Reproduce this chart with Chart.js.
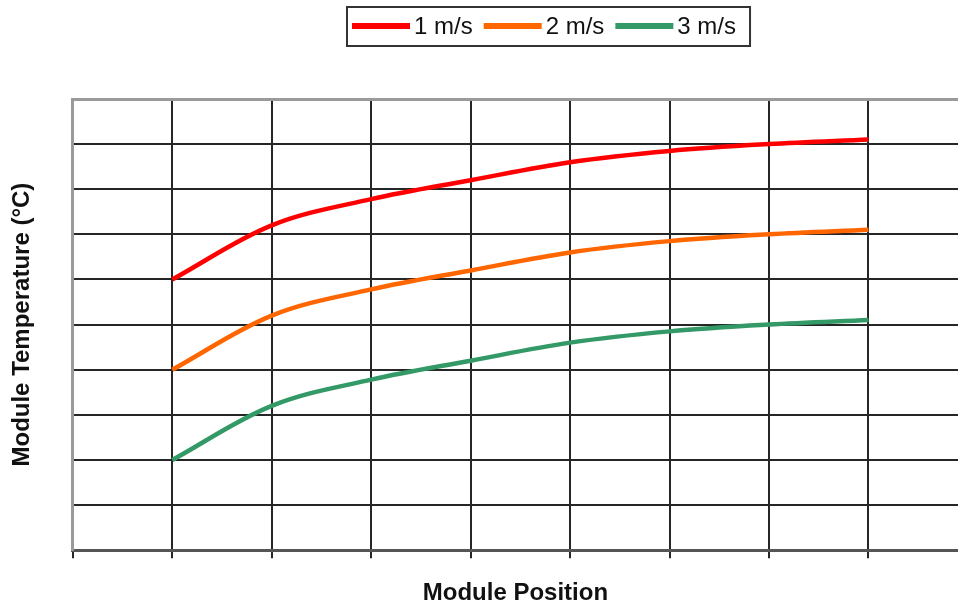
<!DOCTYPE html>
<html>
<head>
<meta charset="utf-8">
<script src="https://cdn.jsdelivr.net/npm/chart.js@4"></script>
<style>
  body { margin: 0; background: #fff; overflow: hidden; }
</style>
</head>
<body>
<canvas id="grafico" width="958" height="606"></canvas>
<script>
// Dados (sem rótulos nos eixos)
const posicoes = [1, 2, 3, 4, 5, 6, 7, 8];
const velocidades = ['1 m/s', '2 m/s', '3 m/s'];
const temp1ms = [6.0, 7.2, 7.78, 8.2, 8.6, 8.85, 9.0, 9.1];
const temp2ms = [4.0, 5.2, 5.78, 6.2, 6.6, 6.85, 7.0, 7.1];
const temp3ms = [2.0, 3.2, 3.78, 4.2, 4.6, 4.85, 5.0, 5.1];
const cores = ['#FF0000', '#FF6600', '#339966'];

const fonte = '"Liberation Sans", Arial, sans-serif';
const corGrade = '#262626';
const corBorda = '#9a9a9a';

// Monta os pontos {x, y} a partir das posições
const serie = valores => valores.map((v, i) => ({ x: posicoes[i], y: v }));

// Legenda com caixa, desenhada por cima do gráfico
const legendaComCaixa = {
    id: 'legendaComCaixa',
    afterDraw(chart) {
        const ctx = chart.ctx;
        const centroY = 26;
        const amostra = 58;
        let x = 352;
        ctx.save();
        ctx.font = '24px ' + fonte;
        ctx.textBaseline = 'middle';
        chart.data.datasets.forEach(ds => {
            ctx.strokeStyle = ds.borderColor;
            ctx.lineWidth = 6;
            ctx.beginPath();
            ctx.moveTo(x, centroY);
            ctx.lineTo(x + amostra, centroY);
            ctx.stroke();
            x += amostra + 4;
            ctx.fillStyle = '#111';
            ctx.fillText(ds.label, x, centroY + 1);
            x += ctx.measureText(ds.label).width + 11;
        });
        ctx.strokeStyle = '#333';
        ctx.lineWidth = 2;
        ctx.strokeRect(347, 7, x - 11 + 14 - 347, 39);
        ctx.restore();
    }
};

new Chart(document.getElementById('grafico'), {
    type: 'line',
    data: {
        datasets: [temp1ms, temp2ms, temp3ms].map((valores, i) => ({
            label: velocidades[i],
            data: serie(valores),
            borderColor: cores[i],
            backgroundColor: cores[i],
            borderWidth: 4.5,
            pointRadius: 0,
            tension: 0.35,
            fill: false
        }))
    },
    options: {
        responsive: false,
        animation: false,
        layout: { padding: { top: 99, left: 0, right: 0, bottom: 0 } },
        plugins: {
            legend: { display: false },
            tooltip: { enabled: false }
        },
        scales: {
            x: {
                type: 'linear',
                min: 0,
                max: 8.9,
                ticks: { display: false, stepSize: 1, includeBounds: false },
                grid: {
                    color: c => (c.tick && c.tick.value === 0) ? corBorda : corGrade,
                    lineWidth: 2,
                    drawTicks: true,
                    tickLength: 8,
                    tickColor: corGrade
                },
                border: { color: '#555', width: 3 },
                title: {
                    display: true,
                    text: 'Module Position',
                    color: '#111',
                    font: { family: fonte, size: 24, weight: 'bold' },
                    padding: { top: 21, bottom: -2 }
                }
            },
            y: {
                min: 0,
                max: 10,
                ticks: { display: false, stepSize: 1 },
                grid: {
                    color: c => {
                        if (!c.tick) return corGrade;
                        if (c.tick.value === 10) return corBorda;
                        if (c.tick.value === 0) return 'rgba(0,0,0,0)';
                        return corGrade;
                    },
                    lineWidth: c => (c.tick && c.tick.value === 10) ? 3 : 2,
                    drawTicks: false
                },
                border: { color: corBorda, width: 3 },
                title: {
                    display: true,
                    text: 'Module Temperature (°C)',
                    color: '#111',
                    font: { family: fonte, size: 24, weight: 'bold' },
                    padding: { top: 8, bottom: 36 }
                }
            }
        }
    },
    plugins: [legendaComCaixa]
});
</script>
</body>
</html>
